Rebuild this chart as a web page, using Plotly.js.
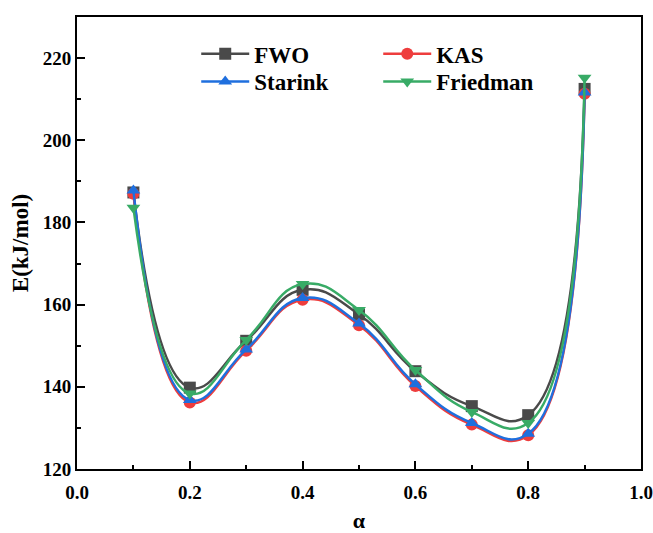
<!DOCTYPE html>
<html>
<head>
<meta charset="utf-8">
<script src="https://cdn.plot.ly/plotly-3.0.1.min.js"></script>
<style>html,body{margin:0;padding:0;background:#fff;}#chart{width:653px;height:533px;}</style>
</head>
<body>
<div id="chart"></div>
<script>
const alpha = [0.1, 0.2, 0.3, 0.4, 0.5, 0.6, 0.7, 0.8, 0.9];
const FWO = [187.3, 139.8, 151.2, 163.6, 157.6, 143.8, 135.3, 133.1, 212.5];
const KAS = [187.0, 136.2, 148.8, 161.2, 155.0, 140.2, 130.8, 128.2, 211.3];
const Starink = [187.8, 136.8, 149.1, 161.6, 155.4, 140.6, 131.2, 128.6, 211.6];
const Friedman = [183.6, 138.4, 151.4, 165.0, 158.7, 144.1, 133.9, 131.2, 215.2];
const xTicks = [0.0, 0.2, 0.4, 0.6, 0.8, 1.0];
const xTickText = ['0.0', '0.2', '0.4', '0.6', '0.8', '1.0'];
const yTicks = [120, 140, 160, 180, 200, 220];

const FONT = 'Liberation Serif, Times New Roman, serif';
function tr(name, y, color, symbol, legend) {
  return {
    x: alpha, y: y, name: name, type: 'scatter', mode: 'lines+markers',
    line: {color: color, width: 2.5, shape: 'spline', smoothing: 1.3},
    marker: {color: color, symbol: symbol, size: 12},
    legend: legend
  };
}
const data = [
  tr('FWO', FWO, '#4a4a4a', 'square', 'legend'),
  tr('KAS', KAS, '#ee3d3d', 'circle', 'legend'),
  tr('Starink', Starink, '#1f6fde', 'triangle-up', 'legend2'),
  tr('Friedman', Friedman, '#38ab66', 'triangle-down', 'legend2')
];
const legendBase = {
  orientation: 'h', xanchor: 'left', yanchor: 'top',
  font: {family: FONT, size: 23, color: '#000', weight: 'bold'},
  bgcolor: 'rgba(0,0,0,0)', entrywidth: 119, entrywidthmode: 'pixels',
  itemwidth: 48, tracegroupgap: 0
};
const layout = {
  width: 653, height: 533,
  margin: {l: 77, r: 12, t: 17, b: 64},
  paper_bgcolor: '#fff', plot_bgcolor: '#fff',
  font: {family: FONT, color: '#000'},
  showlegend: true,
  legend: Object.assign({}, legendBase, {x: 0.2114, y: 0.966}),
  legend2: Object.assign({}, legendBase, {x: 0.2114, y: 0.905}),
  xaxis: {
    range: [0, 1], tickvals: xTicks, ticktext: xTickText,
    ticks: 'inside', ticklen: 8, tickwidth: 2, tickcolor: '#000',
    minor: {dtick: 0.1, ticks: 'inside', ticklen: 4, tickwidth: 2, tickcolor: '#000'},
    showline: true, linewidth: 2, linecolor: '#000', mirror: true,
    showgrid: false, zeroline: false, ticklabelstandoff: 5,
    tickfont: {family: FONT, size: 19, color: '#000', weight: 'bold'},
    title: {text: 'α', font: {family: FONT, size: 22, color: '#000', weight: 'bold'}, standoff: 17}
  },
  yaxis: {
    range: [120, 230], tickvals: yTicks,
    ticks: 'inside', ticklen: 8, tickwidth: 2, tickcolor: '#000',
    minor: {dtick: 10, ticks: 'inside', ticklen: 4, tickwidth: 2, tickcolor: '#000'},
    showline: true, linewidth: 2, linecolor: '#000', mirror: true,
    showgrid: false, zeroline: false,
    tickfont: {family: FONT, size: 19, color: '#000', weight: 'bold'},
    title: {text: 'E(kJ/mol)', font: {family: FONT, size: 23, color: '#000', weight: 'bold'}, standoff: 8}
  }
};
Plotly.newPlot('chart', data, layout, {displayModeBar: false, staticPlot: true});
</script>
</body>
</html>
